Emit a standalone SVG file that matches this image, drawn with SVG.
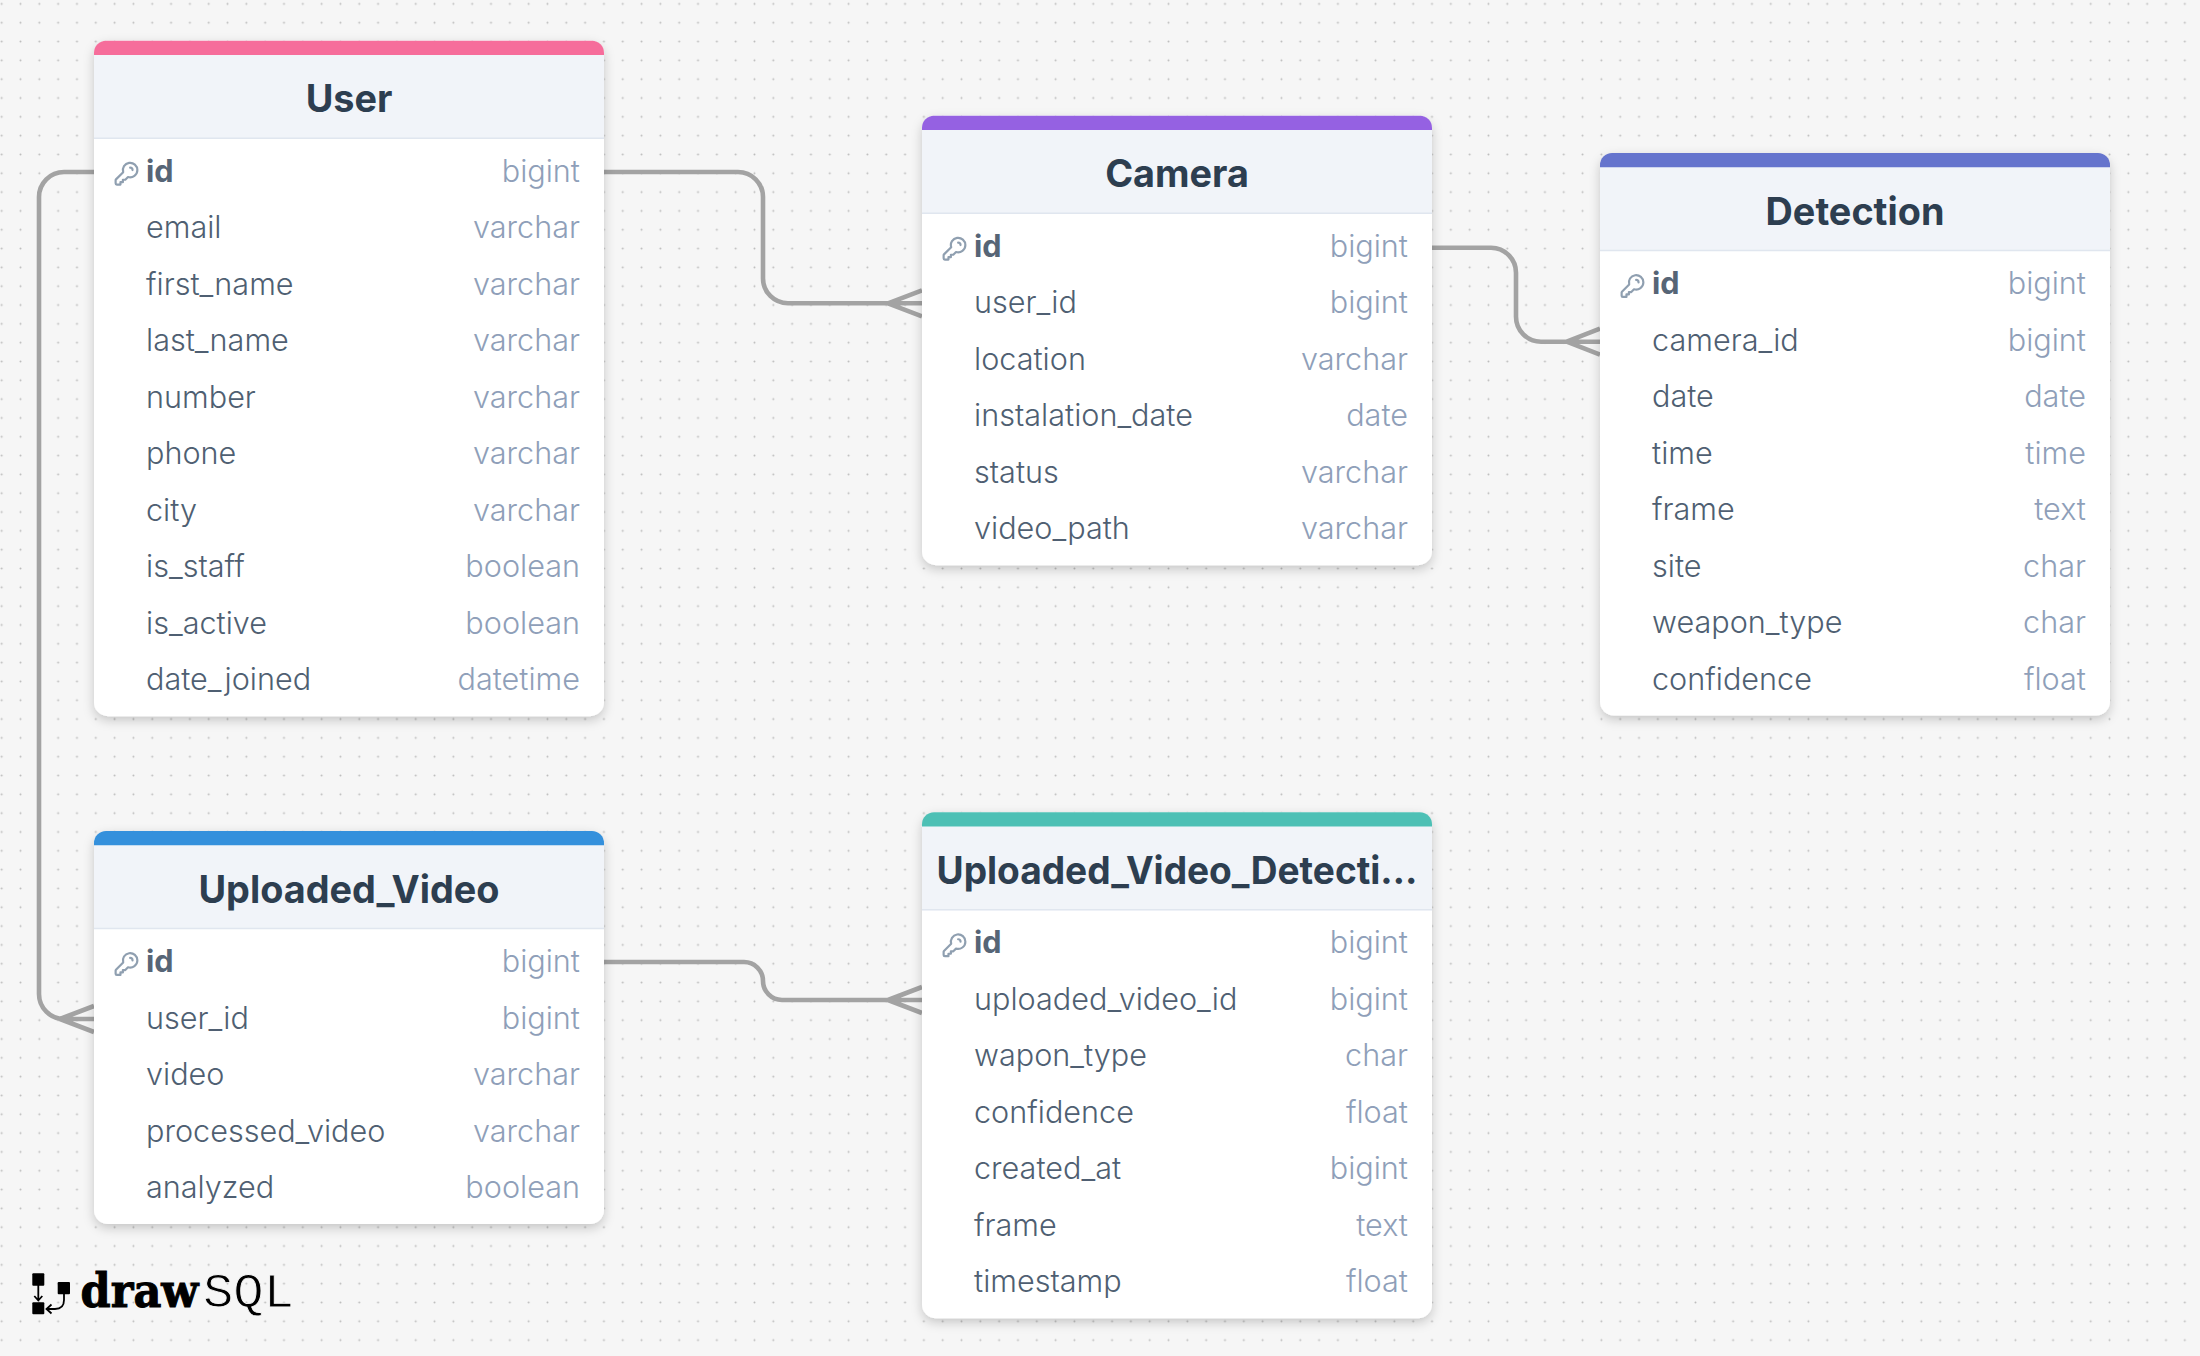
<svg xmlns="http://www.w3.org/2000/svg" width="2200" height="1356" viewBox="0 0 2200 1356">
<style>
text{font-family:Inter,"Liberation Sans",sans-serif}
.card{fill:#fff;filter:url(#sh)}
.head{fill:#f1f4f9}
.div{stroke:#e0e6ef;stroke-width:1.5}
.title{font-size:37.8px;font-weight:700;fill:#2d3e50;text-anchor:middle}
.n{font-size:30.6px;fill:#4f5f72;font-weight:300}
.pk{font-size:30.6px;fill:#566576;font-weight:700}
.t{font-size:30.6px;fill:#8f9fb9;font-weight:300;text-anchor:end}
.lk{fill:none;stroke:#a3a3a3;stroke-width:4.6}
.key{fill:none;stroke:#8f9fb0;stroke-width:1.8;stroke-linecap:round;stroke-linejoin:round}
</style>
<defs>
<pattern id="dots" patternUnits="userSpaceOnUse" x="-7.71" y="-5.51" width="18.82" height="18.82"><circle cx="9.41" cy="9.41" r="1" fill="#bcbcbc"/></pattern>
<filter id="sh" x="-10%" y="-10%" width="120%" height="120%"><feDropShadow dx="0" dy="4" stdDeviation="5.5" flood-color="#000" flood-opacity=".2"/></filter>
<path id="hd" d="M0 14 H510 V98 H0Z"/>
<path id="bar" d="M0 14.3V12A12 12 0 0 1 12 0H498A12 12 0 0 1 510 12V14.3Z"/>
<symbol id="key" viewBox="0 0 24 24" width="29" height="29" overflow="visible"><path d="M15 7a2 2 0 012 2m4 0a6 6 0 01-7.743 5.743L11 17H9v2H7v2H4a1 1 0 01-1-1v-2.586a1 1 0 01.293-.707l5.964-5.964A6 6 0 1121 9z"/></symbol>
</defs>
<rect width="2200" height="1356" fill="#f6f6f6"/>
<rect width="2200" height="1356" fill="url(#dots)"/>
<g id="connectors" class="lk">
<path d="M604 172H738a25 25 0 0 1 25 25V278.3a25 25 0 0 0 25 25H922M888 303.3L922 290.3M888 303.3L922 316.3"/>
<path d="M1432 247.7H1491a25 25 0 0 1 25 25V316.7a25 25 0 0 0 25 25H1600M1566.7 341.7L1600 328.7M1566.7 341.7L1600 354.7"/>
<path d="M94 172H64a25 25 0 0 0-25 25V994a25 25 0 0 0 25 25H94M60 1019L94 1006M60 1019L94 1032"/>
<path d="M604 962H744a19 19 0 0 1 19 19a19 19 0 0 0 19 19H922M888 1000L922 987M888 1000L922 1013"/>
</g>
<g id="user" transform="translate(94 40.7)">
<rect class="card" width="510" height="675.5" rx="14"/><use href="#hd" class="head"/><use href="#bar" fill="#f66d9b"/><line class="div" x1="0" x2="510" y1="97.5" y2="97.5"/>
<text class="title" x="255" y="71.5">User</text>
<use href="#key" class="key" x="18" y="118.5"/>
<text class="pk" x="52" y="141">id</text><text class="t" x="486" y="141">bigint</text>
<text class="n" x="52" y="197.5">email</text><text class="t" x="486" y="197.5">varchar</text>
<text class="n" x="52" y="254">first_name</text><text class="t" x="486" y="254">varchar</text>
<text class="n" x="52" y="310.5">last_name</text><text class="t" x="486" y="310.5">varchar</text>
<text class="n" x="52" y="367">number</text><text class="t" x="486" y="367">varchar</text>
<text class="n" x="52" y="423.5">phone</text><text class="t" x="486" y="423.5">varchar</text>
<text class="n" x="52" y="480">city</text><text class="t" x="486" y="480">varchar</text>
<text class="n" x="52" y="536.5">is_staff</text><text class="t" x="486" y="536.5">boolean</text>
<text class="n" x="52" y="593">is_active</text><text class="t" x="486" y="593">boolean</text>
<text class="n" x="52" y="649.5">date_joined</text><text class="t" x="486" y="649.5">datetime</text>
</g>
<g id="camera" transform="translate(922 115.7)">
<rect class="card" width="510" height="449.5" rx="14"/><use href="#hd" class="head"/><use href="#bar" fill="#9561e2"/><line class="div" x1="0" x2="510" y1="97.5" y2="97.5"/>
<text class="title" x="255" y="71.5">Camera</text>
<use href="#key" class="key" x="18" y="118.5"/>
<text class="pk" x="52" y="141">id</text><text class="t" x="486" y="141">bigint</text>
<text class="n" x="52" y="197.5">user_id</text><text class="t" x="486" y="197.5">bigint</text>
<text class="n" x="52" y="254">location</text><text class="t" x="486" y="254">varchar</text>
<text class="n" x="52" y="310.5">instalation_date</text><text class="t" x="486" y="310.5">date</text>
<text class="n" x="52" y="367">status</text><text class="t" x="486" y="367">varchar</text>
<text class="n" x="52" y="423.5">video_path</text><text class="t" x="486" y="423.5">varchar</text>
</g>
<g id="detection" transform="translate(1600 153)">
<rect class="card" width="510" height="562.5" rx="14"/><use href="#hd" class="head"/><use href="#bar" fill="#6574cd"/><line class="div" x1="0" x2="510" y1="97.5" y2="97.5"/>
<text class="title" x="255" y="71.5">Detection</text>
<use href="#key" class="key" x="18" y="118.5"/>
<text class="pk" x="52" y="141">id</text><text class="t" x="486" y="141">bigint</text>
<text class="n" x="52" y="197.5">camera_id</text><text class="t" x="486" y="197.5">bigint</text>
<text class="n" x="52" y="254">date</text><text class="t" x="486" y="254">date</text>
<text class="n" x="52" y="310.5">time</text><text class="t" x="486" y="310.5">time</text>
<text class="n" x="52" y="367">frame</text><text class="t" x="486" y="367">text</text>
<text class="n" x="52" y="423.5">site</text><text class="t" x="486" y="423.5">char</text>
<text class="n" x="52" y="480">weapon_type</text><text class="t" x="486" y="480">char</text>
<text class="n" x="52" y="536.5">confidence</text><text class="t" x="486" y="536.5">float</text>
</g>
<g id="uploaded_video" transform="translate(94 831)">
<rect class="card" width="510" height="393" rx="14"/><use href="#hd" class="head"/><use href="#bar" fill="#3490dc"/><line class="div" x1="0" x2="510" y1="97.5" y2="97.5"/>
<text class="title" x="255" y="71.5">Uploaded_Video</text>
<use href="#key" class="key" x="18" y="118.5"/>
<text class="pk" x="52" y="141">id</text><text class="t" x="486" y="141">bigint</text>
<text class="n" x="52" y="197.5">user_id</text><text class="t" x="486" y="197.5">bigint</text>
<text class="n" x="52" y="254">video</text><text class="t" x="486" y="254">varchar</text>
<text class="n" x="52" y="310.5">processed_video</text><text class="t" x="486" y="310.5">varchar</text>
<text class="n" x="52" y="367">analyzed</text><text class="t" x="486" y="367">boolean</text>
</g>
<g id="uploaded_video_detection" transform="translate(922 812.3)">
<rect class="card" width="510" height="506" rx="14"/><use href="#hd" class="head"/><use href="#bar" fill="#4dc0b5"/><line class="div" x1="0" x2="510" y1="97.5" y2="97.5"/>
<text class="title" x="255" y="71.5" textLength="481" lengthAdjust="spacingAndGlyphs">Uploaded_Video_Detecti…</text>
<use href="#key" class="key" x="18" y="118.5"/>
<text class="pk" x="52" y="141">id</text><text class="t" x="486" y="141">bigint</text>
<text class="n" x="52" y="197.5">uploaded_video_id</text><text class="t" x="486" y="197.5">bigint</text>
<text class="n" x="52" y="254">wapon_type</text><text class="t" x="486" y="254">char</text>
<text class="n" x="52" y="310.5">confidence</text><text class="t" x="486" y="310.5">float</text>
<text class="n" x="52" y="367">created_at</text><text class="t" x="486" y="367">bigint</text>
<text class="n" x="52" y="423.5">frame</text><text class="t" x="486" y="423.5">text</text>
<text class="n" x="52" y="480">timestamp</text><text class="t" x="486" y="480">float</text>
</g>
<g id="logo">
<rect x="32.3" y="1273.3" width="12" height="12.5" rx="1"/><rect x="32.3" y="1302.3" width="12" height="12" rx="1"/><rect x="57.7" y="1282" width="12.3" height="12.3" rx="1"/>
<path d="M38.3 1285V1300M34.3 1296L38.3 1300.5L42.3 1296M64 1294V1300Q64 1309 55 1309H47M51.5 1304.5L46.5 1309L51.5 1313.5" fill="none" stroke="#000" stroke-width="1.8"/>
<text x="80.5" y="1306.7" font-size="46" font-weight="700" textLength="118" lengthAdjust="spacingAndGlyphs" stroke="#000" stroke-width="1" style="font-family:'DejaVu Serif',serif">draw</text>
<text x="203" y="1306.7" font-size="49" textLength="91" lengthAdjust="spacingAndGlyphs" stroke="#f6f6f6" stroke-width=".9" style="font-family:'Liberation Mono',monospace">SQL</text>
</g>
</svg>
